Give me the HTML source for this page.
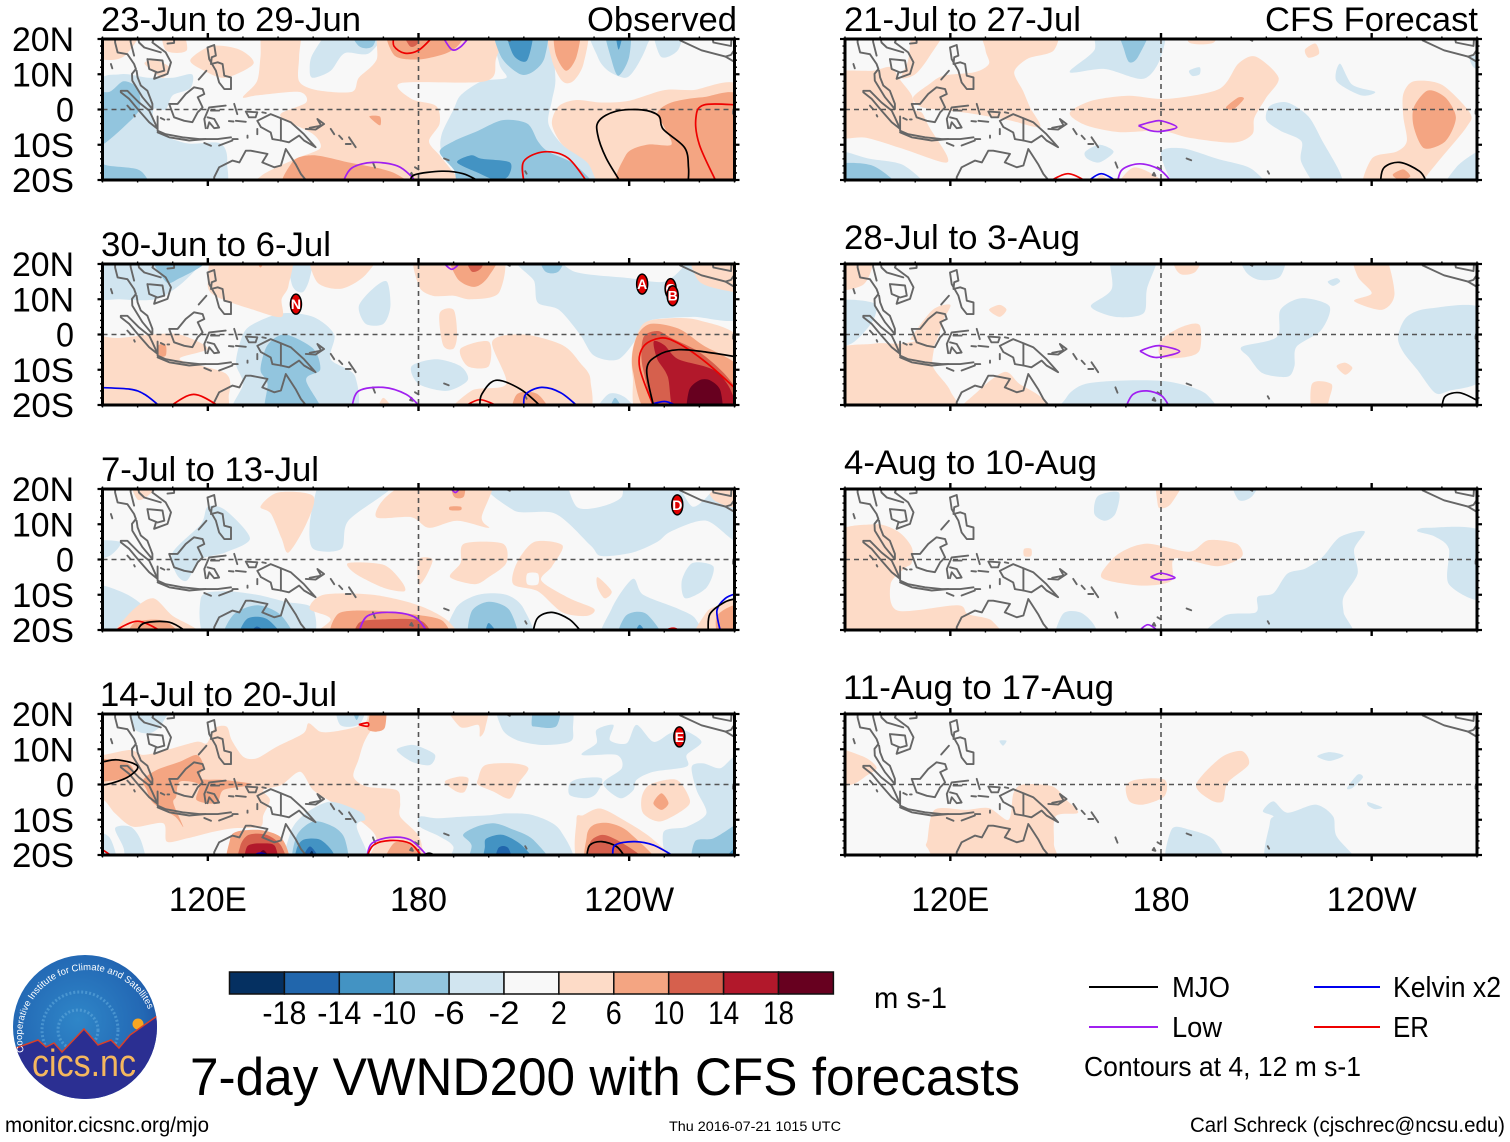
<!DOCTYPE html>
<html lang="en">
<head>
<meta charset="utf-8">
<title>7-day VWND200 with CFS forecasts</title>
<style>
html,body{margin:0;padding:0;background:#fff;}
svg{display:block;}
text{font-family:"Liberation Sans",sans-serif;fill:#000;}
</style>
</head>
<body>
<svg id="chart" xmlns="http://www.w3.org/2000/svg" width="1510" height="1142" viewBox="0 0 1510 1142">
<rect x="0" y="0" width="1510" height="1142" fill="#fff"/>
<g id="panels"></g>

<g font-size="34">
<text x="101" y="31" textLength="260" lengthAdjust="spacingAndGlyphs">23-Jun to 29-Jun</text>
<text x="587" y="31" textLength="150" lengthAdjust="spacingAndGlyphs">Observed</text>
<text x="101" y="256" textLength="230" lengthAdjust="spacingAndGlyphs">30-Jun to 6-Jul</text>
<text x="101" y="481" textLength="218" lengthAdjust="spacingAndGlyphs">7-Jul to 13-Jul</text>
<text x="100" y="706" textLength="237" lengthAdjust="spacingAndGlyphs">14-Jul to 20-Jul</text>
<text x="844" y="31" textLength="237" lengthAdjust="spacingAndGlyphs">21-Jul to 27-Jul</text>
<text x="1265" y="31" textLength="213" lengthAdjust="spacingAndGlyphs">CFS Forecast</text>
<text x="844" y="249" textLength="236" lengthAdjust="spacingAndGlyphs">28-Jul to 3-Aug</text>
<text x="844" y="474" textLength="253" lengthAdjust="spacingAndGlyphs">4-Aug to 10-Aug</text>
<text x="843" y="699" textLength="271" lengthAdjust="spacingAndGlyphs">11-Aug to 17-Aug</text>
</g>

<g id="colorbar"></g>
<text x="874" y="1008" font-size="30" textLength="73" lengthAdjust="spacingAndGlyphs">m s-1</text>

<g font-size="29">
<line x1="1089" y1="987" x2="1158" y2="987" stroke="#000" stroke-width="2"/>
<text x="1172" y="997" textLength="58" lengthAdjust="spacingAndGlyphs">MJO</text>
<line x1="1314" y1="987" x2="1380" y2="987" stroke="#0000ee" stroke-width="2"/>
<text x="1393" y="997" textLength="108" lengthAdjust="spacingAndGlyphs">Kelvin x2</text>
<line x1="1089" y1="1027" x2="1158" y2="1027" stroke="#a020f0" stroke-width="2"/>
<text x="1172" y="1037" textLength="50" lengthAdjust="spacingAndGlyphs">Low</text>
<line x1="1314" y1="1027" x2="1380" y2="1027" stroke="#ee0000" stroke-width="2"/>
<text x="1393" y="1037" textLength="36" lengthAdjust="spacingAndGlyphs">ER</text>
<text x="1084" y="1076" textLength="277" lengthAdjust="spacingAndGlyphs" font-size="28">Contours at 4, 12 m s-1</text>
</g>

<text x="190" y="1095" font-size="53" textLength="830" lengthAdjust="spacingAndGlyphs">7-day VWND200 with CFS forecasts</text>
<text x="5" y="1132" font-size="21" textLength="204" lengthAdjust="spacingAndGlyphs">monitor.cicsnc.org/mjo</text>
<text x="669" y="1131" font-size="14" textLength="172" lengthAdjust="spacingAndGlyphs">Thu 2016-07-21 1015 UTC</text>
<text x="1190" y="1132" font-size="21" textLength="315" lengthAdjust="spacingAndGlyphs">Carl Schreck (cjschrec@ncsu.edu)</text>

<g>
<defs>
<radialGradient id="logoSky" cx="45%" cy="45%" r="65%"><stop offset="0" stop-color="#2f86c8"/><stop offset="0.7" stop-color="#2368b4"/><stop offset="1" stop-color="#1c4c9c"/></radialGradient>
<clipPath id="logoClip"><ellipse cx="85" cy="1027" rx="72" ry="72"/></clipPath>
<path id="logoArc" d="M24 1052 A 65 65 0 1 1 152 1020"/>
</defs>
<ellipse cx="85" cy="1027" rx="72" ry="72" fill="url(#logoSky)"/>
<g clip-path="url(#logoClip)">
<circle cx="80" cy="1030" r="38" fill="none" stroke="#5fa8dc" stroke-width="3" stroke-dasharray="2 2" opacity="0.6"/>
<circle cx="78" cy="1030" r="20" fill="none" stroke="#5fa8dc" stroke-width="3" stroke-dasharray="2 2" opacity="0.6"/>
<circle cx="138" cy="1024" r="5.5" fill="#f6a623"/>
<path d="M10 1050 L16 1048 L38 1040 L46 1047 L54 1043 L62 1052 L84 1029 L98 1045 L111 1040 L119 1048 L130 1035 L160 1014 L160 1102 L10 1102 Z" fill="#2b2f92" stroke="#d8402a" stroke-width="1.5"/>
</g>
<text font-size="9.5" style="fill:#fff"><textPath href="#logoArc">Cooperative Institute for Climate and Satellites</textPath></text>
<text x="32" y="1076" font-size="38" textLength="104" lengthAdjust="spacingAndGlyphs" style="fill:#f4b75e">cics.nc</text>
</g>
</svg>

<script>
// ----- Colour scale -----
const levelColors = ['#053061','#2166ac','#4393c3','#92c5de','#d1e5f0','#f8f8f8','#fddbc7','#f4a582','#d6604d','#b2182b','#67001f'];
const colorbarTicks = ['-18','-14','-10','-6','-2','2','6','10','14','18'];

// ----- Axis labels -----
const lonTicks = [120,180,240];
const lonTickLabels = ['120E','180','120W'];
const latTicks = [20,10,0,-10,-20];
const latTickLabels = ['20N','10N','0','10S','20S'];

// ----- Filled anomaly regions: [band level, lon, lat, lon, lat, ...] -----
const regions1 = [
[-1,88,6,95,10,103,9,110,9,115.5,10,115,6,110,4,108,0,104.5,0,105.5,-6,114,-9.6,123.5,-9.6,125.5,-15,122,-24,86,-24],
[-1,202,24,203,13,205,9,198,8,192,4,190,0,186.6,-7,186.6,-12,191,-16.5,197,-24,236,-24,228,-14.7,221,-10,217,-4,218,2.5,219,8,218.5,17,219,24],
[-1,229,24,231,15,234,11,239,9,242,12,245,18,246,24],
[-1,247,24,249,15,254,17,255,24],
[-1,157,24,150,16,149,11,150,9,155,11,159,16,166,16,171,24],
[1,136,24,146,24,146,15,146,8,151,5.5,161,5,163,9,168,14,171,24,202,24,202,14,199,8,175,7.5,178,3,185,1,186,-4,183,-9,186,-13,190,-18,194,-24,134,-24,135,-19,145,-14,152,-11,150,-7,142,-3,141,-1,148,2,146,5,134,4,130,3.5,134,8,135,15],
[1,218,-4,220,1,225,2.7,232,2,240,2.5,250,5.5,258,5.5,272,6,272,-24,236,-24,228,-15,221,-10],
[1,217,24,218,14,221,8,224,8,227,13,228,24],
[1,86,24,88,15,96,15,101,24],
[1,107,24,108,16.8,114,16.8,112,24],
[1,102,13,107,9,109,12,105,14],
[1,115,14,121,18,129,17,133,13,125,9,119,11],
[0,258,-24,258,-17,264,-17,268,-24],
[-2,186,-12,190,-9,197,-6,204,-3,211,-4,214,-9,217,-12,225,-16,229,-24,195,-24,190,-17],
[-2,202,24,203.5,15,209,10,213,11,216,15,216,24],
[-2,233,24,235,14,237,9.6,240,15,240,24],
[-2,86,4,92,5,96,8,100,6,100.5,0,96,-5,90,-10,86,-11],
[-2,86,-15,92,-16,100,-17,103,-20,105,-24,86,-24],
[-2,160,24,163,18,167,18,168,24],
[-3,191,-15,195,-13,198,-14,206,-15,205.5,-19,202,-20,197,-18],
[-3,205,24,207,15.5,211,14,212.5,24],
[-3,236,24,237,17,238.5,24],
[2,248,-1,252,2,261,3.5,272,3,272,-24,238,-24,239,-13,245,-10,252,-10,250,-5],
[2,219,24,219,16,222,11,225,15,226,24],
[2,172,24,173,15.5,180,14.2,188,16,192,19,193,24],
[2,143,-24,144,-15,150,-13,160,-15,173,-18,178,-24],
[2,166,-2,169,-4.5,169,-2],
[3,175,24,177.5,18,180,19,181,24]
];
const regions2 = [
[-1,86,24,88,11,95,10,105,10,112,14,118,20,120,24],
[-1,143,24,144,14,147,12,149,16,150,24],
[-1,163,8,167,13,171,15,172,8,170,3,165,3],
[-1,130,0,133,3,141,6,150,5,156,0,155,-7,162,-12,160,-24,128,-24,130,-14,128,-8],
[-1,178,-9,185,-7,192,-9,194,-13,188,-16,180,-14],
[-1,210,24,213,15,214,9,220,7,226,0,230,-6,237,-7,243,0,246,4,258,5,272,5,272,24],
[-1,230,-24,234,-17,239,-18,243,-24],
[1,123,24,120,15,122,11,133,7,141,5,141,10,143,14,143,24],
[1,150,24,151,15,158,13,165,17,168,24],
[1,88,0,94,-1,104,0,112,0,120,-4,112,-7,125,-11,126,-17,122,-24,86,-24,86,0],
[1,180,24,180,14,184,11,190,11,195,10,203,12,203,24],
[1,186,6,190,7,191,0,190,-4,187,-3],
[1,201,-2,210,0,221,-3,226,-8,229,-13,226,-24,190,-24,195,-16,205,-14],
[1,192,-4,200,-2,200,-9,194,-9],
[1,168,-24,170,-18,174,-24],
[1,241,-4,244,3,250,4.5,260,4,272,-2,272,-24,244,-24,241,-12],
[0,222,24,224,18,240,16,250,15,256,20,256,24],
[1,258,24,260,15,270,12,272,12,272,24],
[-2,104,24,108,15,112,16,119,20,120,24],
[-2,137,-3,142,0,150,-4,152,-10,148,-13,153,-24,137,-24,137,-14,135,-10],
[-2,214,24,216,18,220,18,222,24],
[-2,234,-24,236,-18,239,-24],
[2,133,24,135,19,137,24],
[2,106,-3,108,-3,108,-6,106,-6],
[2,189,24,191,16,196,13.5,200,16.5,203,24],
[2,207,-24,208,-17,214,-17,218,-24],
[2,242,-1,246,3,254,1.7,261,-3,272,-10,272,-24,247,-24,241,-10],
[3,193,24,195,18,198,19,199,24],
[3,244,-1,248,1,252,-1,260,-5,267,-11,272,-18,272,-24,250,-24,244,-10],
[4,247,-2,250,-3,254,-7,264,-10,269,-16,270,-24,254,-24,251,-12,248,-7],
[5,257,-16,260,-13,263,-13,266,-16,266,-24,257,-24]
];
const regions3 = [
[-1,86,5,95,5,92,1,86,0],
[-1,86,-8,95,-9,102,-14,98,-20,90,-24,86,-24],
[-1,120,15,125,14,132,6,125,2,118,0,114,-6,111,-4,110,2,118,10],
[-1,118,-11,124,-9,134,-10,142,-12,150,-14,148,-24,121,-24],
[-1,153,24,151,20,149,10,150,3,158,3,160,11,172,20,172,24],
[-1,189,-24,190.5,-14,197,-10,205,-10,210,-14,212,-24],
[-1,233,-24,235,-14,241,-5.5,244,-10,254,-14,259,-17,260,-24],
[-1,255,-6,258,-1,264,-2,262,-8,256,-11],
[-1,202,24,207,14,219,13,229,4,232,1,241,2,248,5,252,8,262,11,272,5,272,24],
[0,223,24,225,15,232,15,238,18,236,24],
[0,254,24,258,15,264,20,264,24],
[1,262,24,264,17,272,15,272,24],
[1,135,15,140,19,150,18,148,10,143,2,141,6,138,13],
[1,168,12,171,18,182,24,201,24,198,12,200,9,191,11,183,9,178,12],
[1,160,-1,170,-1.5,175,-6,176,-9,170,-8,162,-4],
[1,180,0,184,0,182,-5,180,-7],
[1,193,4.5,204,4.5,205,-1,200,-5,196,-7,189,-5,192,-1],
[1,213,5,221,4,218,-2,215,-6,223,-11,230,-14,228,-16,221,-15,214,-9,207,-7,208,-1],
[1,149,-14,153,-10,167,-10,180,-13,189,-18,189,-24,150,-24,155,-17],
[1,93,-21,99,-14,104.5,-11,110,-16,117,-20,117,-24,93,-24],
[1,98,24,100,17,104,19,107,24],
[1,231,-5,235,-9,233,-11,231,-8],
[1,258,-24,262,-15,266,-13,272,-11,272,-24],
[0,211,-4,214,-4,214,-7,211,-7],
[-2,125,-24,127,-16,134,-13,141,-16,144,-24],
[-2,195,-24,195,-15,200,-12,206,-14.5,208,-24],
[-2,237,-24,239,-16,245,-15.5,250,-24],
[-3,129,-24,131,-17,137,-17,142,-24],
[-3,199,-24,200,-18,204,-24],
[-3,241,-24,243,-18.5,246,-24],
[-4,131,-24,134,-19,139,-24],
[2,189,24,190,18,193,18,193,24],
[2,189,15,192,15,192,14,189,14],
[2,157,-15.5,167,-14.5,178,-15.5,187,-17.5,187,-24,157,-24],
[2,98,-24,99,-18,108,-17.5,113,-24],
[2,266,-24,265,-16,272,-13,272,-24],
[3,163,-18,170,-17,181,-17.5,183,-24,163,-24],
[3,268,-24,272,-17,272,-24]
];
const regions4 = [
[1,90.3,8.4,97.8,9.8,101.6,8.4,108.3,9.8,116.8,12.1,119.7,11.7,122,16,125.4,16.4,126.8,12.6,130.1,7.9,133.9,7.4,139.6,10.7,147.2,14.5,148.7,17.4,152,15,155.8,15,162.4,16.4,165.3,18.3,166.2,24,172.9,24,165.3,13.6,162.9,7,161.5,2.2,165.3,-0.6,173.8,-1.6,174.8,-5.3,174.8,-9.1,179.5,-13.8,181,-17.6,181,-24,165.3,-24,168.1,-15.7,164.3,-11,155.8,-5.3,150,-1.6,146.3,3.6,141,-0.1,135.8,-1.6,137.7,-4.4,135.8,-8.7,134.9,-12,127.3,-12.4,121.6,-13.4,114,-15.3,108.3,-16.2,107.3,-11,98.8,-12,93.6,-8.2,90.3,-4.4,86,-4,86,8],
[-1,98,24,99,16,103,14.5,106,16,108,19,111,24],
[-1,93.6,-12.4,98,-12,101,-16,102.5,-24,97,-24,96,-18],
[-1,86,-14,92,-15,94,-24,86,-24],
[-1,143.2,-24,143.4,-14,147.2,-8.7,154.8,-4.9,163.3,-7.7,164.8,-10,162.4,-12,165.3,-24],
[-1,156.7,24,157.7,16.9,163.4,17.3,164.8,24],
[-1,173.8,9.8,177.6,11.2,180.4,10.7,184.7,8.4,183.2,5.5,178,6.5],
[1,187.5,24,191.8,16.4,197,16.9,197.5,13.6,199,16,199.4,24],
[-1,203.2,24,203.7,16,208,12.6,215.5,11.2,223.1,12.1,224,15.5,222.2,24],
[1,197,1.7,199,5.5,207,6,211.3,4.6,208.4,0.3,206,-4,201.3,-2,197,-0.1],
[1,187.5,0.8,191.3,2.2,194.2,1.7,193.2,-2,190.8,-2],
[-1,226.5,8.4,230.7,11.7,230.7,15.5,235.5,16.9,234.5,12.6,239.3,11.7,242.1,16.9,246.9,12.1,251.6,14.5,255.4,15.5,260.6,12.1,256.4,8.4,256.4,5.1,246.9,3.6,242.1,1.3,241.2,-1.6,237.4,-3.9,232.6,0.3,237.9,4.6,236.4,8.4],
[-1,223.1,0.3,226,1.7,232.2,1.7,230.7,-2.5,227.9,-3.9,223.1,-3],
[-1,257.8,5,261.1,6,265.9,4.6,272,7,272,-24,253,-24,249.7,-13.7,256.4,-12,262,-8.2,259.2,-1.6],
[-1,180.4,-9.1,185.1,-9.6,192.7,-9.1,200.3,-8.7,205.1,-8.2,212.7,-8.7,220.3,-12.9,222.7,-24,191,-24,189.9,-17.6,186.1,-14.8,180.4,-12],
[1,225,-10,226.9,-8.7,231.7,-6.8,238.3,-10,246.9,-15.7,253.5,-24,227,-24],
[1,243.6,-3.5,246,0,253.5,1.3,257.3,-4.4,255.4,-7.2,248.8,-10.5,244,-8.2],
[-2,160.5,24,162.4,18.3,163.8,24],
[-2,144.9,-24,145.2,-14.8,150,-10.5,155.8,-12,159.1,-15.7,159.1,-24],
[-2,212.2,17.3,213.6,24,220.3,24,219.3,16.6,213.6,16.4],
[-2,192.7,-14.3,196.5,-12,201.3,-11,206,-12.4,212.7,-15.7,217.4,-24,195.6,-24,195.1,-17.2],
[-2,258.7,-24,258.7,-16.2,264,-15.3,270.2,-11.5,272,-11,272,-24],
[-3,145.2,-18.6,147.2,-15.7,152,-15.7,155.8,-19.5,156,-24,145.2,-24],
[-3,198.9,-17.6,199.4,-15.3,204.1,-14.3,209.8,-17.6,213.6,-24,199.4,-24],
[-3,265.4,-24,270,-18,272,-18,272,-24],
[-4,146.3,-24,149.1,-17.6,152.9,-24],
[-4,201.8,-24,202.7,-18.1,205.6,-18.1,207,-24],
[-5,147.7,-24,149.6,-18.8,151,-24],
[2,101.6,1.3,105.4,4.1,112.1,6.5,116.8,8.4,118.7,5.5,117.8,1.7,124.4,1.3,132,0.3,131,-0.4,124.4,-1.6,122.5,-5.3,116.8,-4.4,117.5,0,112,0.8,111,-3.5,110.2,-5.3,113,-12,110.7,-9.1,104.5,-5.3,102.6,-1.6],
[2,86,7,96,6.5,98.8,4,96,1.7,90,0.8,86,0.5],
[2,165.7,17.3,167.2,24,170.7,24,170.5,16.4,168.1,15,165.7,15.5],
[2,126.3,-24,126.3,-15.7,128.2,-13.4,134.9,-12.9,140.6,-14.8,143,-19.5,143,-24],
[2,170,-24,172.9,-16.7,177.6,-16.7,180.5,-19,181,-24],
[2,246.9,-5.3,249.2,-2.5,251.2,-5.3,249.2,-7.2],
[2,227.9,-14.8,229.8,-11.5,234.5,-11,240.2,-13.8,248.8,-24,228.8,-24],
[3,129.2,-17.6,131.6,-14.3,136.8,-14.3,141,-17.6,142,-24,129.2,-24],
[3,228.8,-16.7,232.2,-14.3,236.4,-15.7,243,-20,245,-24,229.8,-24],
[4,131.2,-17.6,135.8,-16.7,139.2,-17.6,139.6,-24,131,-24],
[5,132.5,-24,135.8,-18.6,138.7,-24]
];
const regions5 = [
[1,130,24,149.5,24,149.5,16.8,142,14.4,138.2,10.6,140.7,5.3,142.7,0.6,145.5,-5,136.6,-3,127,-1.3,120.3,-0.4,112,0.6,109.4,3.4,114,7.2,118,9.6,127,10.6,131,13,130,17],
[1,110,24,119,24,114,15,110,10,106,9,108,14],
[1,86,10,90,11,98,11,103,12,106,8,109,4,110,0,112,-1,114,-5,119,-13,118,-15,106,-11,96,-8,86,-7],
[1,154,-1,160,2.4,170.6,3.9,181.6,3,196.5,5.8,202,13,207,15,213.5,9,210,3.4,206.6,-2.3,206,-7,200.6,-9.4,188,-8,180,-6,168,-6.4,158.4,-4.4],
[1,249,4.4,252,8,260,7,268,-1,267,-5,259,-14.7,255,-20,255,-24,238,-24,240,-14,247,-12,250,-9,249,-2],
[1,221,17,224,18.7,225,15.8,222,14.7],
[1,188,24,188,19,195,19,196,24],
[1,167,-24,172,-16.5,180,-20,180,-24],
[1,160,-24,163,-18.5,167,-24],
[-1,154,10.6,161,16.8,162,24,180,24,180,15,175,8.7,164,11.5],
[-1,188,11,191,12,191,10,189,9.5],
[-1,230,8,231,13,234.5,7,241,5,237,4],
[-1,180,-12.5,186,-11,196,-14,206,-17,210,-24,187,-24],
[-1,210,-3,211,1,216,2,222,-2,226,-9,231,-18,232,-24,226,-24,220,-15,220,-9,214,-6],
[-1,86,-12,97,-14,107,-16,113,-24,86,-24],
[-1,158.4,-12,162.5,-10,166.5,-12,162.5,-15,159,-14],
[-1,260,-24,264,-16.5,270,-12,272,-12,272,-24],
[-1,268,15,272,15,272,11,269,12],
[-2,168,24,177,24,173.5,15,171,13.4,169.5,17],
[-2,86,-16,98,-16,106,-24,86,-24],
[2,198.5,0.6,202,3.4,203.6,3,200.6,0],
[2,252,0.6,256,5.4,261,3.4,264,-2.3,261,-9,255,-11,252,-5],
[2,246,-18.5,249,-17,251,-19,248,-20]
];
const regions6 = [
[1,86,24,86,13,95,14,98,20,98,24],
[-1,86,9,98,9,98,4,92,-2.5,86,-2.5],
[1,109,-0.7,115,7,120,8.4,118,4,115,-3.5,109.5,-1.6],
[1,86,-5.4,98,-2.6,106,-2.6,115,-1.6,115,-9,120,-16,121,-24,86,-24],
[1,122,-24,128,-16,135.5,-10.6,139.7,-14,146,-18,148.5,-24],
[1,131,7,134,8.4,136,7,134,5],
[-1,160,8,166,13,166,24,179,24,176,13,175,6,167,5],
[1,180,-1.6,186,2.2,191,2.7,191,-4.5,187,-6.4,180,-6.4],
[1,183,24,192,24,190,18,186,17,184,19],
[-1,202.6,24,215,24,214,16.5,208,15.5,204,18],
[-1,227.5,15,230,16,231,15,229,13.8],
[1,234.5,24,243,24,246.5,11.7,243,7,235,9.5,240,11.7,236,16.5],
[-1,203,-3.5,213,-0.7,214,7,220,10.3,228,8,225.6,1.2,218.6,-3.5,218,-9,216,-12,209,-11,205,-6.4],
[-1,247.5,-0.7,250,5,256.6,7.4,272,7,272,-12,262,-16,258,-16.5,253,-10,249,-5],
[-1,153,-18,158.5,-14,172,-13,183,-13.5,193,-17,193.5,-24,153,-24],
[1,230,-9,232.5,-8,234.5,-9.5,232.5,-11.4],
[1,223,-24,223,-14,228.5,-14,228,-18,226,-24]
];
const regions7 = [
[1,86,5.5,98,10,105,8,109,3.5,109,-1,107,-2.5,103,-7,105,-14.5,122,-13,125,-15.5,132,-17.5,132,-24,86,-24],
[1,179,24,187,24,183,16,180,14.5,179,16],
[-1,161,13,162,18,168,19,167,13,164,11],
[-1,200,24,208.5,24,206,18,202,17],
[1,163,-4,168,1.7,176,4.5,188,2.2,193.5,5.5,201.5,4.5,203,0.8,196,-1.9,184,0.3,183,-6,175,-7.4,165,-6],
[1,141,3,143,3,143,1,141,1],
[1,237.5,24,240,19.8,241,24],
[-1,193,-24,198,-16,207,-15,207.5,-10.6,212,-9.6,216,-4,221,-2.6,226,0.7,231,6.4,238,8,235,2.8,236,-4,232,-10.6,232,-15,233,-24],
[-1,150,-24,152,-15.5,157,-15,161,-18.7,162,-24],
[-1,253,8,256,9,272,7.5,272,-11,262,-7,262,3,258,6.5]
];
const regions8 = [
[1,86,10,95,8,99,4.8,96,2.4,92,0,86,0],
[1,113.5,-15.7,115.5,-7.2,124.4,-7.2,131,-6.7,136.6,-10,138,-2.4,140.7,0,149,-0.5,153,-4.3,156.4,-8,150,-9,149.5,-16.7,149,-24,120,-24,113.5,-18],
[-1,134,12.4,136,12.4,135,11],
[1,170,-0.5,173,1.4,181,1.4,181,-3.3,175,-5.7,171,-4.8],
[1,190,0,197,7.6,203,9.5,205,5.7,199,0.5,197.6,-4.8,194,-4.3],
[-1,224.5,8,228,9.2,232,8.2,228,6.7],
[-1,233,-1,236,2.8,237.5,2,234.5,-1],
[-1,239,-5,243,-6.5,241,-7,239,-6],
[-1,209,-7.6,212,-4.8,216,-8,224,-5.7,229,-9,230,-14.7,236,-24,211,-24,211,-11,212,-9],
[-1,182,-24,183,-12.8,188,-12.8,195,-15.7,198,-24]
];

// ----- Contour lines: [wave type, lon, lat, lon, lat, ...]; mjo, low, kelvin, er -----
const contours1 = [
['er',173,21,173,18,176,16,180,16.8,184,20.5],
['low',187,20.5,189.5,17,192,17.8,194.4,20.5],
['low',158.5,-20.5,161,-16.6,167,-15,174,-16,178,-19,179,-20.5],
['mjo',177.6,-20.5,179,-18.5,186.6,-17.5,192.7,-18.2,197.5,-20.5],
['er',210,-20.5,210,-14.7,215.8,-12,222.5,-13.7,228,-20.5],
['mjo',237.5,-20.5,233.4,-13.7,231,-7,231.4,-3.2,236.2,-0.5,243.6,-0.1,248.4,-1.8,249.7,-5.6,255.8,-10.8,256.9,-16.5,256.8,-20.5],
['er',264.8,-20.5,260,-10,259,-2.4,261.3,1.3,271,1.3]
];
const contours2 = [
['kelvin',88,-15,97.7,-15.5,102,-17,106.5,-20.5],
['er',109,-20.5,116,-17,123.5,-20.5],
['low',161,-20.5,163,-16,170,-15,176.5,-17,180.5,-20.5],
['er',193,-20.5,197.5,-18.5,203,-20.5],
['mjo',197.5,-20.5,198,-17,202,-13,209,-15.5,215,-20.5],
['kelvin',210,-20.5,210.5,-17,215,-15,220.5,-16.5,225.5,-20.5],
['kelvin',244,-20.5,250,-19,254,-20.5],
['er',247,-20.5,243,-9.5,244,-3.5,249,-1,254,-2.5,262,-8,271,-16],
['mjo',247,-20.5,245,-10,248,-6,254,-4.3,262,-5,271,-6.4],
['low',187,20.5,189.5,18.5,192,20.5]
];
const contours3 = [
['er',93,-20.5,100,-17.5,107,-20.5],
['mjo',99.7,-20.5,102,-18,109,-17.8,114,-20.5],
['low',163,-20.5,165.5,-16,172.4,-15,179,-16.4,182.5,-20.5],
['mjo',212.6,-20.5,214,-16.5,218,-15,223,-17,226.4,-20.5],
['er',249,-20.5,252.5,-19.5,255,-20.5],
['kelvin',266,-20.5,265,-14.5,267.4,-11,271,-9.5],
['mjo',262.5,-20.5,263,-15.5,267.4,-12,271,-11],
['low',189,20.5,190.5,19,192,20.5]
];
const contours4 = [
['mjo',88,6.3,90.3,6.5,94,7,98.8,6,100,4.6,97.4,2.2,93.1,0.5,89,-0.4],
['er',90,-18.5,93,-20.5],
['er',163,17,165.5,17.5,165.5,16.5,163,17],
['kelvin',132,-20.5,135,-19.5,139,-20.5],
['low',165.3,-20.5,166.7,-16.7,171.9,-15,177.6,-15.7,182.8,-20.5],
['er',165.3,-20.5,167.2,-17.2,171.9,-15.9,177.6,-16.7,181,-20.5],
['mjo',180.5,-20.5,183,-19.5,185.5,-20.5],
['mjo',227.9,-20.5,228.8,-17.2,232.2,-16.2,236.4,-17.6,238.8,-20.5],
['kelvin',235.3,-20.5,236,-17.2,241.2,-16.2,246.9,-17.2,253,-20.5]
];
const contours5 = [
['low',173.6,-4.6,177,-3.6,180,-3.2,184.5,-5,180,-6.2,177,-6,173.6,-4.6],
['er',148,-20.5,153.5,-18.2,159,-20.5],
['kelvin',159,-20.5,163,-18.2,167.6,-20.5],
['low',167.6,-20.5,169,-17,174,-15.4,179.5,-17,183,-20.5],
['mjo',242.5,-20.5,243.5,-16.5,248,-15,253.6,-17.5,255.6,-20.5]
];
const contours6 = [
['low',174,-4.7,177,-3.6,180,-3.2,185.3,-4.8,180,-6.4,177,-6.2,174,-4.7],
['low',170,-20.5,172,-17,176,-16,180.2,-17.4,182.4,-20.5],
['mjo',260,-20.5,261,-17.5,265,-16.5,270,-18.7,272,-20.5]
];
const contours7 = [
['low',177,-5,180,-3.9,184,-5.2,180,-5.8,177,-5],
['low',173.5,-20.5,176.3,-18.5,179.5,-20.5]
];
const contours8 = [];

// ----- Tropical cyclone markers: [letter, lon, lat] -----
const storms2 = [['N',145.1,8.6],['A',243.7,14.3],['C',251.8,13],['B',252.4,11]];
const storms3 = [['D',253.7,15.5]];
const storms4 = [['E',254.3,13.5]];

// ----- Coastlines (lon, lat) -----
const coastlines = [
[93.6,21,93.6,19,94.3,16.2,97.1,15.7,99,12.9,99.5,11.5,98.4,10.1,98.5,8.2,101.4,3.5,104.2,0.1,104.2,1.6,102.8,5.3,100.9,6.8,100,9.1,99.7,11],
[102.8,14.3,107.1,13.9,107.6,11,105.7,10.5,103.3,11.5,102.8,14.3],
[105,21,104.2,19,108,16.2,109.5,13.4,108.5,10.1,104.7,8.7,105.2,10.5],
[100,21,100.4,19,101.9,17.6,106.6,16.2],
[98,21,98,19.2,99,15.3],
[108.5,18.7,110.4,18.9,110.4,21],
[95.2,5.3,97.1,5.3,100.4,2,103.3,-0.3,104.2,-2.2,105.7,-5.5,103.3,-3.6,100.4,-0.3,97.6,3,95.2,4.9,95.2,5.3],
[105.7,-2,105.7,-6,108,-7,112.8,-7.9,117.5,-8.4,122.8,-8.4,126.6,-7.9],
[105.7,-6.5,109,-7.9,114.7,-8.8,119.4,-8.4],
[109,1.6,111.4,1.6,113.7,4.4,116.1,6.3,118.5,5.8,119,4.4,117.1,3.5,118.5,0.6,117.1,-0.8,115.6,-3.6,113.3,-3.2,110.4,-2.2,109,1.6],
[117.4,8.5,119.6,11],
[119.9,17.6,121.8,18.3,122.3,15.3,121.1,14.8,120.9,12.9,122.8,13.4,124.2,12.9,124.7,9.6,126.6,9.1,126.6,5.8,124.7,5.8,123.2,7.7,122.3,11,120.4,14.3,119.9,17.6],
[125.1,1.1,120.4,0.6,119,-2.7,119.4,-5.3],
[120.9,-0.3,123.2,-0.3],
[119.9,-2.2,121.8,-2.7,123.2,-5.1,121.8,-5.3,120.4,-3.6,119.9,-5.3],
[123.2,-10.2,127,-8.8],
[119,-9.5,120.9,-10.3],
[92.4,12.9,92.8,11.7],
[97.1,1.1,98,0.1],
[99,-1.6,99.2,-2],
[106.6,-2.4,107.6,-2.9],
[108.5,-2.8,109,-2.8],
[121.8,-22,121.8,-19.2,123.2,-16.4,127,-14.5,129,-15,130.8,-11.7,132.2,-11.7,137,-12.6,135.5,-15,138.9,-16.4,140.8,-15.9,142.2,-11.2,145,-15.5,146.5,-18.3,147.9,-20,149,-22],
[130.8,-0.6,134.1,-0.8,133.6,-2.2,131.7,-2.2,130.8,-0.6],
[134.1,-3.2,137.9,-1.3,140.8,-2.5,143.6,-3.6,147.4,-7,150.7,-10.7,147.4,-8.8,146,-7.4,143.1,-9.3,140.8,-8.8,138.4,-8.4,137.9,-6.5,135.1,-5,134.1,-3.2],
[140.8,-2.5,140.8,-8.8],
[147.9,-5.5,150.7,-5.7,153.1,-4.1,151.2,-2.7,152.3,-4.6,149,-5.2],
[155,-5.5,156,-7],
[157.4,-7.4,158.3,-8.4],
[159.3,-9.8,160.7,-9.8],
[160.2,-7.9,162.1,-10.7],
[127.5,1.6,128.4,-1.3],
[128,-3.2,130.8,-3.5],
[126,-3.3,127.3,-3.4],
[134.1,-5.5,134.1,-7],
[131.3,-7.4,131.3,-8],
[127,-8.4,128.5,-8.4],
[135.5,-0.8,136.5,-1],
[167,-15,167.6,-16.5],
[187.3,-13.9,188.6,-14.4],
[210.4,-17.5,210.8,-18.2],
[178,-18,177.6,-18.6,178.4,-18.8,178,-18],
[179,-16.4,180,-17],
[205,20,206,19.5],
[254.5,22,254.5,19.6,260.6,16.8,267.4,15,270,13.5,272,13],
[263.3,22,264,19,269,18,269.3,22],
[267.4,15,269,15.5,270,17],
[269.6,-0.4,269.6,-1.2]
];

// ----- Panel layout (pixel placement of each map) -----
const SVG_NS = 'http://www.w3.org/2000/svg';
const panelW = 632, panelH = 141;
const panelDefs = [
  {left:102.5, top:39,  regions:regions1, contours:contours1, storms:[],      labelY:true,  labelX:false},
  {left:102.5, top:264, regions:regions2, contours:contours2, storms:storms2, labelY:true,  labelX:false},
  {left:102.5, top:489, regions:regions3, contours:contours3, storms:storms3, labelY:true,  labelX:false},
  {left:102.5, top:714, regions:regions4, contours:contours4, storms:storms4, labelY:true,  labelX:true},
  {left:845,   top:39,  regions:regions5, contours:contours5, storms:[],      labelY:false, labelX:false},
  {left:845,   top:264, regions:regions6, contours:contours6, storms:[],      labelY:false, labelX:false},
  {left:845,   top:489, regions:regions7, contours:contours7, storms:[],      labelY:false, labelX:false},
  {left:845,   top:714, regions:regions8, contours:contours8, storms:[],      labelY:false, labelX:true}
];
const contourColors = {mjo:'#000000', low:'#a020f0', kelvin:'#0000ee', er:'#ee0000'};

function make(tag, parent){
  const el = document.createElementNS(SVG_NS, tag);
  parent.appendChild(el);
  return el;
}
function xScale(p, lon){ return p.left + (lon - 90) * panelW / 180; }
function yScale(p, lat){ return p.top + (20 - lat) * panelH / 40; }
function fillColor(level){
  return levelColors[5 + level];
}
function toPoints(p, flat, start){
  const pts = [];
  for (let i = start; i + 1 < flat.length; i += 2) pts.push([xScale(p, flat[i]), yScale(p, flat[i + 1])]);
  return pts;
}
function smoothClosed(pts){
  const n = pts.length;
  let d = 'M' + pts[0][0].toFixed(1) + ' ' + pts[0][1].toFixed(1);
  for (let i = 0; i < n; i++){
    const a = pts[(i - 1 + n) % n], b = pts[i], c = pts[(i + 1) % n], e = pts[(i + 2) % n];
    const c1x = b[0] + (c[0] - a[0]) / 7, c1y = b[1] + (c[1] - a[1]) / 7;
    const c2x = c[0] - (e[0] - b[0]) / 7, c2y = c[1] - (e[1] - b[1]) / 7;
    d += 'C' + c1x.toFixed(1) + ' ' + c1y.toFixed(1) + ' ' + c2x.toFixed(1) + ' ' + c2y.toFixed(1) + ' ' + c[0].toFixed(1) + ' ' + c[1].toFixed(1);
  }
  return d + 'Z';
}
function smoothOpen(pts){
  const n = pts.length;
  let d = 'M' + pts[0][0].toFixed(1) + ' ' + pts[0][1].toFixed(1);
  for (let i = 0; i < n - 1; i++){
    const a = pts[Math.max(i - 1, 0)], b = pts[i], c = pts[i + 1], e = pts[Math.min(i + 2, n - 1)];
    const c1x = b[0] + (c[0] - a[0]) / 6, c1y = b[1] + (c[1] - a[1]) / 6;
    const c2x = c[0] - (e[0] - b[0]) / 6, c2y = c[1] - (e[1] - b[1]) / 6;
    d += 'C' + c1x.toFixed(1) + ' ' + c1y.toFixed(1) + ' ' + c2x.toFixed(1) + ' ' + c2y.toFixed(1) + ' ' + c[0].toFixed(1) + ' ' + c[1].toFixed(1);
  }
  return d;
}
function straight(pts){
  return pts.map(function(q, i){ return (i ? 'L' : 'M') + q[0].toFixed(1) + ' ' + q[1].toFixed(1); }).join('');
}
function paintRank(level){
  const m = Math.abs(level);
  return m === 1 ? 1 : (m === 0 ? 2 : m + 1);
}
function xLabelWidth(label){
  return label === '180' ? 57 : (label === '120W' ? 90 : 78);
}

const root = document.getElementById('panels');
const defs = make('defs', root);

panelDefs.forEach(function(p, idx){
  const g = make('g', root);
  
  

  const clip = make('clipPath', defs);
  clip.setAttribute('id', 'clip' + idx);
  const clipRect = make('rect', clip);
  clipRect.setAttribute('x', p.left);
  clipRect.setAttribute('y', p.top);
  clipRect.setAttribute('width', panelW);
  clipRect.setAttribute('height', panelH);

  const bg = make('rect', g);
  
  
  bg.setAttribute('x', p.left);
  bg.setAttribute('y', p.top);
  bg.setAttribute('width', panelW);
  bg.setAttribute('height', panelH);
  bg.setAttribute('fill', levelColors[5]);

  const inner = make('g', g);
  inner.setAttribute('clip-path', 'url(#clip' + idx + ')');
  
  

  const ordered = p.regions.slice().sort(function(a, b){ return paintRank(a[0]) - paintRank(b[0]); });
  ordered.forEach(function(r){
    const path = make('path', inner);
    
    
    path.setAttribute('d', smoothClosed(toPoints(p, r, 1)));
    path.setAttribute('fill', fillColor(r[0]));
  });

  coastlines.forEach(function(c){
    const path = make('path', inner);
    
    
    path.setAttribute('d', straight(toPoints(p, c, 0)));
    path.setAttribute('fill', 'none');
    path.setAttribute('stroke', '#666');
    path.setAttribute('stroke-width', '1.9');
    path.setAttribute('stroke-linejoin', 'round');
    path.setAttribute('stroke-linecap', 'round');
  });

  const eq = make('line', inner);
  
  
  eq.setAttribute('x1', p.left);
  eq.setAttribute('x2', p.left + panelW);
  eq.setAttribute('y1', yScale(p, 0));
  eq.setAttribute('y2', yScale(p, 0));
  eq.setAttribute('stroke', '#555');
  eq.setAttribute('stroke-width', '1.6');
  eq.setAttribute('stroke-dasharray', '5 4');

  const dl = make('line', inner);
  
  
  dl.setAttribute('x1', xScale(p, 180));
  dl.setAttribute('x2', xScale(p, 180));
  dl.setAttribute('y1', p.top);
  dl.setAttribute('y2', p.top + panelH);
  dl.setAttribute('stroke', '#555');
  dl.setAttribute('stroke-width', '1.6');
  dl.setAttribute('stroke-dasharray', '5 4');

  p.contours.forEach(function(c){
    const path = make('path', inner);
    
    
    path.setAttribute('d', smoothOpen(toPoints(p, c, 1)));
    path.setAttribute('fill', 'none');
    path.setAttribute('stroke', contourColors[c[0]]);
    path.setAttribute('stroke-width', '1.7');
  });

  p.storms.forEach(function(s){
    const cx = xScale(p, s[1]), cy = yScale(p, s[2]);
    const blob = make('ellipse', inner);
    
    
    blob.setAttribute('cx', cx);
    blob.setAttribute('cy', cy);
    blob.setAttribute('rx', 5.5);
    blob.setAttribute('ry', 10);
    blob.setAttribute('fill', '#e00000');
    blob.setAttribute('stroke', '#000');
    blob.setAttribute('stroke-width', '1.5');
    const letter = make('text', inner);
    
    
    letter.setAttribute('x', cx);
    letter.setAttribute('y', cy + 5);
    letter.setAttribute('text-anchor', 'middle');
    letter.setAttribute('font-size', '14');
    letter.setAttribute('font-weight', 'bold');
    letter.setAttribute('style', 'fill:#fff');
    letter.textContent = s[0];
  });

  const frame = make('rect', g);
  
  
  frame.setAttribute('x', p.left);
  frame.setAttribute('y', p.top);
  frame.setAttribute('width', panelW);
  frame.setAttribute('height', panelH);
  frame.setAttribute('fill', 'none');
  frame.setAttribute('stroke', '#000');
  frame.setAttribute('stroke-width', '3');

  // minor and major longitude ticks
  for (let lon = 90; lon <= 270; lon += 10){
    const major = lonTicks.indexOf(lon) >= 0;
    const x = xScale(p, lon);
    const len = major ? 6 : 2.5;
    const t1 = make('line', g);
    
    
    t1.setAttribute('x1', x);
    t1.setAttribute('x2', x);
    t1.setAttribute('y1', p.top);
    t1.setAttribute('y2', p.top - len);
    t1.setAttribute('stroke', '#000');
    t1.setAttribute('stroke-width', major ? 2.4 : 1.4);
    const t2 = make('line', g);
    
    
    t2.setAttribute('x1', x);
    t2.setAttribute('x2', x);
    t2.setAttribute('y1', p.top + panelH);
    t2.setAttribute('y2', p.top + panelH + len);
    t2.setAttribute('stroke', '#000');
    t2.setAttribute('stroke-width', major ? 2.4 : 1.4);
  }
  // minor and major latitude ticks
  for (let lat = -20; lat <= 20; lat += 2){
    const major = lat % 10 === 0;
    const y = yScale(p, lat);
    const len = major ? 5 : 2.5;
    const t1 = make('line', g);
    
    
    t1.setAttribute('x1', p.left);
    t1.setAttribute('x2', p.left - len);
    t1.setAttribute('y1', y);
    t1.setAttribute('y2', y);
    t1.setAttribute('stroke', '#000');
    t1.setAttribute('stroke-width', major ? 2.2 : 1.4);
    const t2 = make('line', g);
    
    
    t2.setAttribute('x1', p.left + panelW);
    t2.setAttribute('x2', p.left + panelW + len);
    t2.setAttribute('y1', y);
    t2.setAttribute('y2', y);
    t2.setAttribute('stroke', '#000');
    t2.setAttribute('stroke-width', major ? 2.2 : 1.4);
  }

  if (p.labelY){
    latTicks.forEach(function(lat, i){
      const t = make('text', g);
      
      
      t.setAttribute('x', 74);
      t.setAttribute('y', yScale(p, lat) + 12);
      t.setAttribute('text-anchor', 'end');
      t.setAttribute('font-size', '34');
      t.setAttribute('textLength', latTickLabels[i].length > 1 ? 62 : 18);
      t.setAttribute('lengthAdjust', 'spacingAndGlyphs');
      t.textContent = latTickLabels[i];
    });
  }
  if (p.labelX){
    lonTicks.forEach(function(lon, i){
      const t = make('text', g);
      
      
      t.setAttribute('x', xScale(p, lon) - xLabelWidth(lonTickLabels[i]) / 2);
      t.setAttribute('y', 911);
      t.setAttribute('font-size', '34');
      t.setAttribute('textLength', xLabelWidth(lonTickLabels[i]));
      t.setAttribute('lengthAdjust', 'spacingAndGlyphs');
      t.textContent = lonTickLabels[i];
    });
  }
});

// ----- Colour bar -----
const cb = document.getElementById('colorbar');
const cbLeft = 229.5, cbTop = 972, cbBoxW = 54.9, cbH = 22;
levelColors.forEach(function(col, i){
  const box = make('rect', cb);
  
  
  box.setAttribute('x', cbLeft + i * cbBoxW);
  box.setAttribute('y', cbTop);
  box.setAttribute('width', cbBoxW);
  box.setAttribute('height', cbH);
  box.setAttribute('fill', col);
  box.setAttribute('stroke', '#111');
  box.setAttribute('stroke-width', '1.5');
});
colorbarTicks.forEach(function(label, i){
  const t = make('text', cb);
  
  
  t.setAttribute('x', cbLeft + (i + 1) * cbBoxW);
  t.setAttribute('y', 1024);
  t.setAttribute('text-anchor', 'middle');
  t.setAttribute('font-size', '32');
  t.setAttribute('textLength', label.length === 3 ? 44 : (label.length === 2 ? 31 : 16));
  t.setAttribute('lengthAdjust', 'spacingAndGlyphs');
  t.textContent = label;
});
</script>
</body>
</html>
